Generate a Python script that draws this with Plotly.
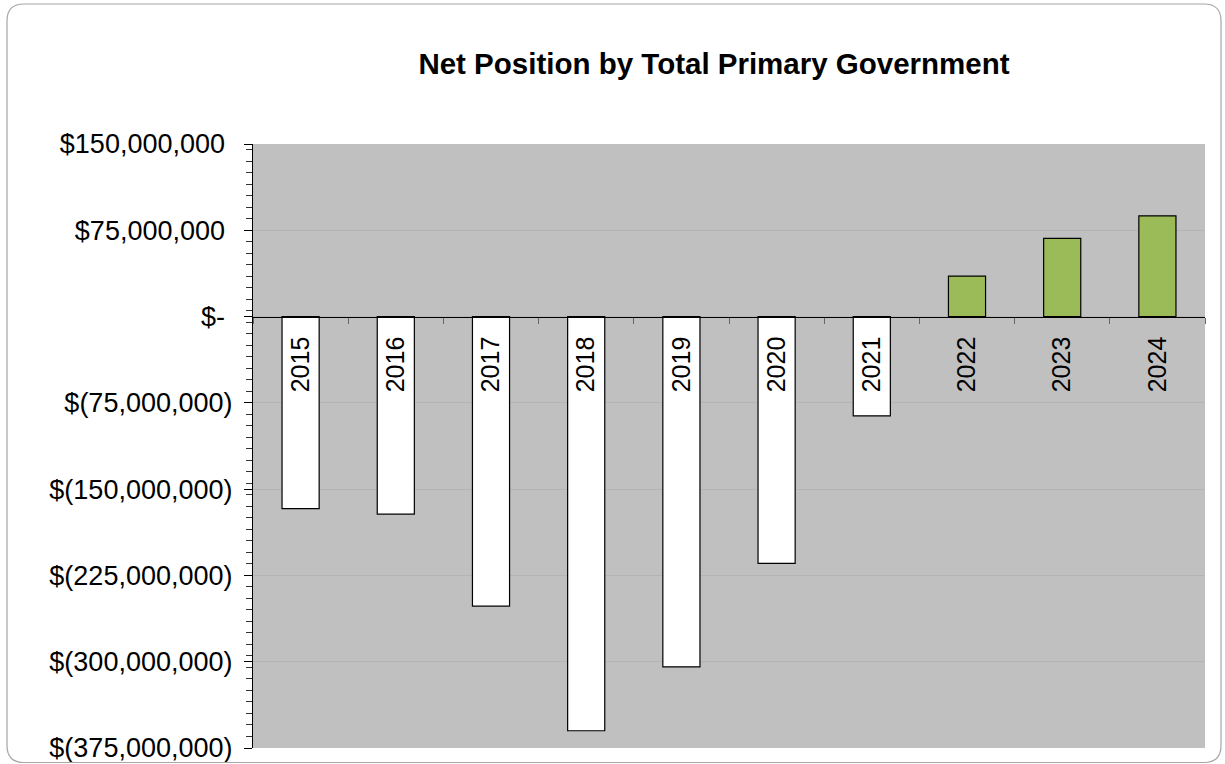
import plotly.graph_objects as go

# Net position, total primary government (US dollars)
years = ["2015", "2016", "2017", "2018", "2019", "2020", "2021", "2022", "2023", "2024"]
net_position = [-166.9e6, -171.8e6, -251.7e6, -360.0e6, -304.4e6,
                -214.6e6, -86.3e6, 35.2e6, 67.9e6, 87.6e6]

tick_values = [150e6, 75e6, 0, -75e6, -150e6, -225e6, -300e6, -375e6]
# accounting format: non-negative labels keep room for the closing parenthesis
tick_labels = ["$150,000,000\u00a0", "$75,000,000\u00a0", "$-\u00a0", "$(75,000,000)",
               "$(150,000,000)", "$(225,000,000)", "$(300,000,000)", "$(375,000,000)"]

title_text = "Net Position by Total Primary Government"

W, H = 1225, 764
ML, MR, MT, MB = 253, 20, 144, 16
Y_MIN, Y_MAX = -375e6, 150e6

FONT = "Liberation Sans, Arial, sans-serif"

bar_colors = ["#9BBB59" if v > 0 else "#FFFFFF" for v in net_position]

fig = go.Figure(
    go.Bar(
        x=years,
        y=net_position,
        marker=dict(color=bar_colors, line=dict(color="#000000", width=1.2)),
        width=0.39,
        hoverinfo="x+y",
    )
)

# category axis sits on the zero line
zero_frac = (0 - Y_MIN) / (Y_MAX - Y_MIN)

fig.update_layout(
    width=W,
    height=H,
    margin=dict(l=ML, r=MR, t=MT, b=MB, pad=0, autoexpand=False),
    paper_bgcolor="#FFFFFF",
    plot_bgcolor="#C0C0C0",
    showlegend=False,
    font=dict(family=FONT, color="#000000"),
    title=dict(
        text=f"<b>{title_text}</b>",
        x=714 / W,
        xanchor="center",
        y=1 - 64 / H,
        yanchor="middle",
        font=dict(family=FONT, size=29.5, color="#000000"),
    ),
    xaxis=dict(
        type="category",
        anchor="free",
        position=zero_frac,
        automargin=False,
        showline=True,
        linecolor="#000000",
        linewidth=1.2,
        ticks="outside",
        tickson="boundaries",
        ticklen=6,
        tickwidth=1,
        tickcolor="#666666",
        tickangle=-90,
        ticklabelstandoff=9,
        tickfont=dict(family=FONT, size=25, color="#000000"),
        showgrid=False,
        zeroline=False,
    ),
    yaxis=dict(
        range=[Y_MIN, Y_MAX],
        automargin=False,
        tickmode="array",
        tickvals=tick_values,
        ticktext=tick_labels,
        tickfont=dict(family=FONT, size=27, color="#000000"),
        showline=True,
        linecolor="#000000",
        linewidth=1.2,
        ticks="outside",
        ticklen=8,
        tickwidth=1.2,
        tickcolor="#000000",
        ticklabelstandoff=6,
        showgrid=True,
        gridcolor="#B4B4B4",
        gridwidth=1,
        zeroline=False,
        minor=dict(
            tickmode="linear",
            tick0=5e6,
            dtick=10e6,
            ticks="outside",
            ticklen=6,
            tickwidth=1,
            tickcolor="#333333",
            showgrid=False,
        ),
    ),
)

# rounded frame around the whole chart
pw = W - ML - MR
ph = H - MT - MB


def px_x(p):
    return (p - ML) / pw


def px_y(p):
    return 1 - (p - MT) / ph


x0, x1, y0, y1, r = 7, 1221, 4, 762.5, 17
path = (
    f"M {px_x(x0 + r)},{px_y(y0)} L {px_x(x1 - r)},{px_y(y0)} "
    f"Q {px_x(x1)},{px_y(y0)} {px_x(x1)},{px_y(y0 + r)} "
    f"L {px_x(x1)},{px_y(y1 - r)} "
    f"Q {px_x(x1)},{px_y(y1)} {px_x(x1 - r)},{px_y(y1)} "
    f"L {px_x(x0 + r)},{px_y(y1)} "
    f"Q {px_x(x0)},{px_y(y1)} {px_x(x0)},{px_y(y1 - r)} "
    f"L {px_x(x0)},{px_y(y0 + r)} "
    f"Q {px_x(x0)},{px_y(y0)} {px_x(x0 + r)},{px_y(y0)} Z"
)
fig.add_shape(
    type="path",
    path=path,
    xref="paper",
    yref="paper",
    line=dict(color="#A6A6A6", width=1.2),
    fillcolor="rgba(0,0,0,0)",
    layer="above",
)

fig.write_html("out.html")
